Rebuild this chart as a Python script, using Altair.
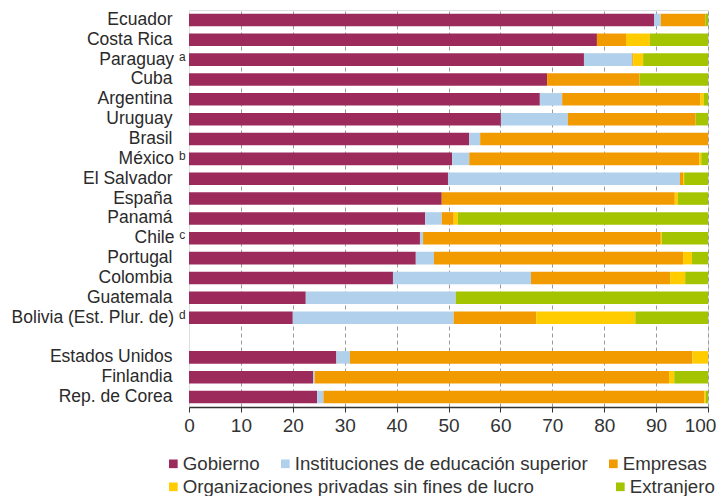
import altair as alt
import pandas as pd

countries = ["Ecuador", "Costa Rica", "Paraguay ᵃ", "Cuba", "Argentina", "Uruguay", "Brasil",
             "México ᵇ", "El Salvador", "España", "Panamá", "Chile ᶜ", "Portugal", "Colombia",
             "Guatemala", "Bolivia (Est. Plur. de) ᵈ", "Estados Unidos", "Finlandia", "Rep. de Corea"]
gap_label = " "
y_domain = countries[:16] + [gap_label] + countries[16:]

sectors = ["Gobierno", "Instituciones de educación superior", "Empresas",
           "Organizaciones privadas sin fines de lucro", "Extranjero"]
colors = ["#9C2B5C", "#B1D0EB", "#F29B00", "#FFCC00", "#A5C400"]

gobierno = [89.6, 78.6, 76.1, 69.0, 67.6, 60.1, 54.0, 50.7, 49.9, 48.7, 45.5, 44.5, 43.7, 39.3, 22.5, 20.0, 28.4, 23.9, 24.7]
ies = [1.3, 0.0, 9.3, 0.0, 4.3, 12.9, 2.1, 3.3, 44.7, 0.0, 3.2, 0.6, 3.5, 26.6, 28.9, 31.0, 2.6, 0.3, 1.2]
empresas = [8.6, 5.6, 0.2, 17.8, 26.6, 24.6, 43.9, 44.3, 0.6, 44.9, 2.3, 45.8, 48.0, 26.8, 0.0, 15.9, 66.0, 68.3, 73.4]
ong = [0.0, 4.6, 1.9, 0.0, 0.7, 0.0, 0.0, 0.4, 0.2, 0.6, 0.8, 0.2, 1.7, 2.9, 0.0, 19.1, 3.0, 1.0, 0.3]
extranjero = [0.5, 11.2, 12.5, 13.2, 0.8, 2.4, 0.0, 1.3, 4.6, 5.8, 48.2, 8.9, 3.1, 4.4, 48.6, 14.0, 0.0, 6.5, 0.4]

series = [gobierno, ies, empresas, ong, extranjero]
rows = []
for si, (s, vals) in enumerate(zip(sectors, series)):
    for c, v in zip(countries, vals):
        rows.append({"country": c, "sector": s, "value": v, "order": si})
df = pd.DataFrame(rows)

FONT = "Liberation Sans"

base = alt.Chart(df).transform_stack(
    stack="value", groupby=["country"], as_=["x0", "x1"],
    sort=[alt.SortField("order", order="ascending")]
)

sup_test = ("indexof(datum.value, 'ᵃ') >= 0 || indexof(datum.value, 'ᵇ') >= 0 || "
            "indexof(datum.value, 'ᶜ') >= 0 || indexof(datum.value, 'ᵈ') >= 0")

x_enc = alt.X("x0:Q", title=None,
              scale=alt.Scale(domain=[0, 100], nice=False, zero=True),
              axis=alt.Axis(values=list(range(0, 101, 10)), grid=True, gridDash=[4, 3],
                            gridColor="#9a9a9a", gridWidth=1,
                            gridOpacity={"condition": {"test": "datum.value == 0", "value": 0}, "value": 1},
                            domainColor="#333333", domainWidth=1.5, tickColor="#333333",
                            tickSize=5, labelFontSize=19, labelColor="#333333",
                            labelFont=FONT, labelPadding=4, labelFlush=False,
                            labelOffset={"condition": {"test": "datum.value == 100", "value": -8}, "value": 0}))
y_enc = alt.Y("country:N", title=None, sort=None,
              scale=alt.Scale(domain=y_domain, paddingInner=0.37, paddingOuter=0.185),
              axis=alt.Axis(domain=False, ticks=False, labelFontSize=17.5, labelColor="#2a2a2a",
                            labelFont=FONT,
                            labelPadding={"condition": {"test": sup_test, "value": 4}, "value": 17},
                            labelLimit=300))

legend_common = dict(title=None, orient="none", legendX=-25, direction="horizontal",
                     symbolType="square", symbolSize=75, labelFontSize=18.7, labelFont=FONT,
                     labelColor="#333333", labelOffset=0, labelLimit=400)

layer_a = base.transform_filter(
    alt.FieldOneOfPredicate(field="sector", oneOf=sectors[:3])
).mark_bar().encode(
    x=x_enc, x2="x1:Q", y=y_enc,
    color=alt.Color("sector:N",
                    scale=alt.Scale(domain=sectors[:3], range=colors[:3]),
                    legend=alt.Legend(legendY=444, columnPadding=16, **legend_common))
)

layer_b = base.transform_filter(
    alt.FieldOneOfPredicate(field="sector", oneOf=sectors[3:])
).mark_bar().encode(
    x=x_enc, x2="x1:Q", y=y_enc,
    color=alt.Color("sector:N",
                    scale=alt.Scale(domain=sectors[3:], range=colors[3:]),
                    legend=alt.Legend(legendY=467, columnPadding=77, **legend_common))
)

chart = alt.layer(layer_a, layer_b).resolve_scale(color="independent").resolve_legend(
    color="independent"
).properties(
    width=519, height=397,
    autosize=alt.AutoSizeParams(type="none"),
    padding={"left": 181, "top": 2, "right": 9, "bottom": 89}
).configure_view(stroke=None).configure(font=FONT)

chart.save("out.html", embed_options={"renderer": "svg", "actions": False})
